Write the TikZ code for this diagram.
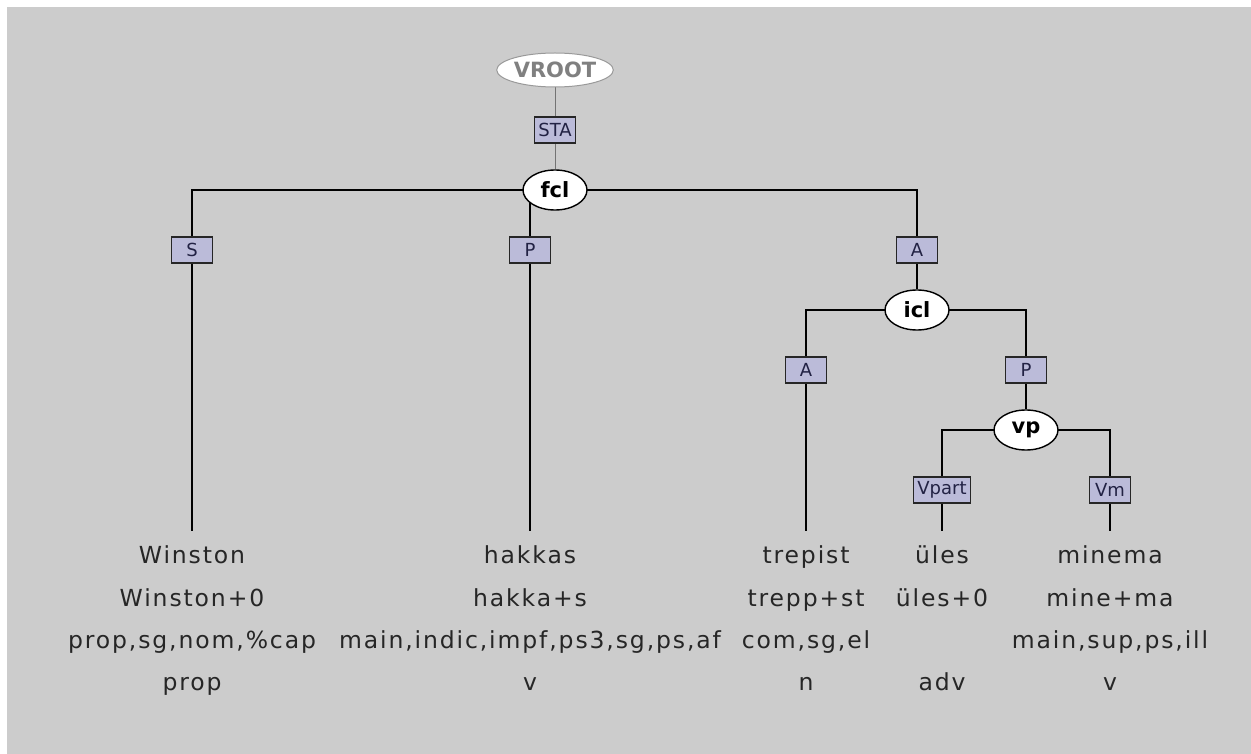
\documentclass[tikz,border=0pt]{standalone}
\usepackage{fontspec}
\setmainfont{DejaVu Sans}
\newfontfamily\wordfont[LetterSpace=8]{DejaVu Sans}
\usetikzlibrary{shapes.geometric,backgrounds}
\definecolor{canvas}{RGB}{204,204,204}
\definecolor{tagfill}{RGB}{187,187,217}
\definecolor{tagink}{RGB}{34,34,68}

\begin{document}
\begin{tikzpicture}[x=1pt,y=-1pt,
  phrase/.style={ellipse,draw=black,line width=1.4pt,fill=white,
    minimum width=64pt,minimum height=40pt,inner sep=0pt,
    font=\bfseries\fontsize{21}{21}\selectfont},
  rootnode/.style={ellipse,draw=black!40,line width=1pt,fill=white,
    minimum width=110pt,minimum height=34pt,inner sep=0pt,text=black!50,
    font=\bfseries\fontsize{21}{21}\selectfont},
  tag/.style={rectangle,draw=black!85,line width=1.4pt,fill=tagfill,text=tagink,
    minimum width=41pt,minimum height=26pt,inner xsep=4pt,inner ysep=0pt,
    font=\fontsize{18}{18}\selectfont},
  word/.style={anchor=base,inner sep=0pt,text=black!85,
    font=\wordfont\fontsize{23.5}{24}\selectfont},
  link/.style={line width=1.4pt,draw=black},
  rootlink/.style={line width=1pt,draw=black!55}]

\useasboundingbox (0,0) rectangle (1251,754);

% tree nodes
\node[rootnode] (vroot) at (555,70) {VROOT};
\node[tag] (sta) at (555,130) {STA};
\node[phrase] (fcl) at (555,190) {fcl};
\node[tag] (s) at (192,250) {S};
\node[tag] (p1) at (530,250) {P};
\node[tag] (a1) at (917,250) {A};
\node[phrase] (icl) at (917,310) {icl};
\node[tag] (a2) at (806,370) {A};
\node[tag] (p2) at (1026,370) {P};
\node[phrase] (vp) at (1026,430) {vp};
\node[tag] (vpart) at (942,490) {Vpart};
\node[tag] (vm) at (1110,490) {Vm};

% ends of the leaf lines
\coordinate (e1) at (192,531);
\coordinate (e2) at (530,531);
\coordinate (e3) at (806,531);
\coordinate (e4) at (942,531);
\coordinate (e5) at (1110,531);

% word forms, lemmas, features, part of speech
\node[word] (w1a) at (192,563) {Winston};
\node[word] (w1b) at (192,606) {Winston+0};
\node[word] (w1c) at (192,648) {prop,sg,nom,\%cap};
\node[word] (w1d) at (192,690) {prop};
\node[word] (w2a) at (530,563) {hakkas};
\node[word] (w2b) at (530,606) {hakka+s};
\node[word] (w2c) at (530,648) {main,indic,impf,ps3,sg,ps,af};
\node[word] (w2d) at (530,690) {v};
\node[word] (w3a) at (806,563) {trepist};
\node[word] (w3b) at (806,606) {trepp+st};
\node[word] (w3c) at (806,648) {com,sg,el};
\node[word] (w3d) at (806,690) {n};
\node[word] (w4a) at (942,563) {üles};
\node[word] (w4b) at (942,606) {üles+0};
\node[word] (w4d) at (942,690) {adv};
\node[word] (w5a) at (1110,563) {minema};
\node[word] (w5b) at (1110,606) {mine+ma};
\node[word] (w5c) at (1110,648) {main,sup,ps,ill};
\node[word] (w5d) at (1110,690) {v};

\begin{pgfonlayer}{background}
  \fill[white] (0,0) rectangle (1251,754);
  \fill[canvas] (7,7) rectangle (1251,754);
  % connectors
  \draw[rootlink] (vroot) -- (sta);
  \draw[rootlink] (sta) -- (fcl);
  \draw[link] (fcl.center) -| (s);
  \draw[link] (fcl.center) -| (p1);
  \draw[link] (fcl.center) -| (a1);
  \draw[link] (s) -- (e1);
  \draw[link] (p1) -- (e2);
  \draw[link] (a1) -- (icl);
  \draw[link] (icl.center) -| (a2);
  \draw[link] (icl.center) -| (p2);
  \draw[link] (a2) -- (e3);
  \draw[link] (p2) -- (vp);
  \draw[link] (vp.center) -| (vpart);
  \draw[link] (vp.center) -| (vm);
  \draw[link] (vpart) -- (e4);
  \draw[link] (vm) -- (e5);
\end{pgfonlayer}
\end{tikzpicture}
\end{document}
